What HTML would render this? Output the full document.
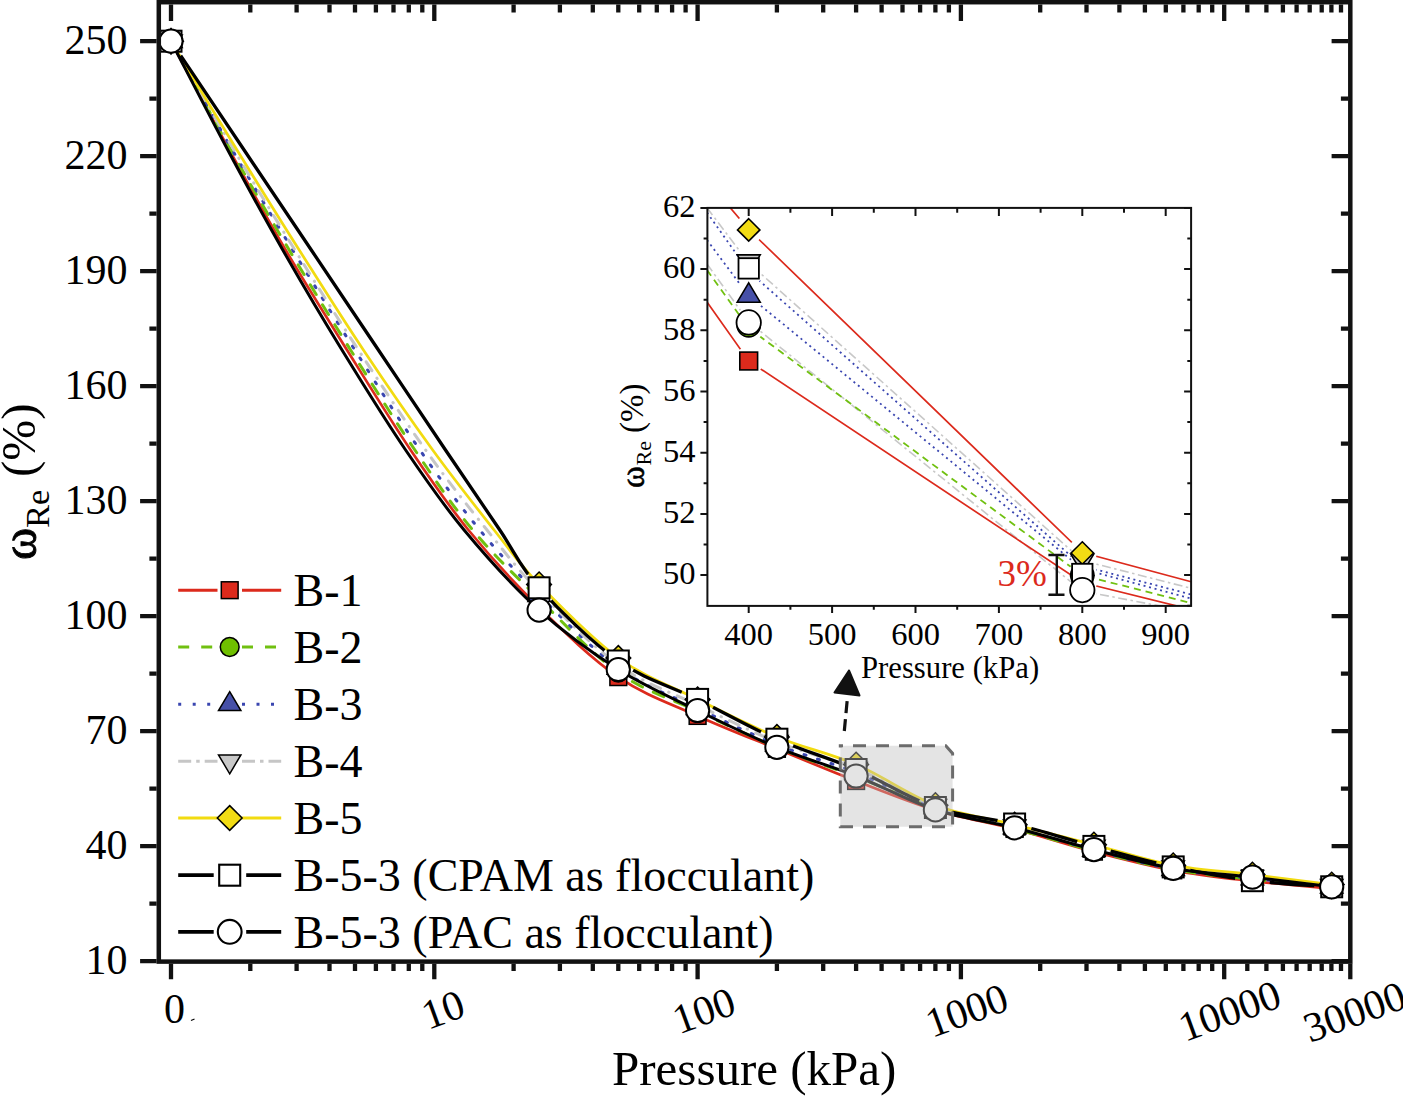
<!DOCTYPE html><html><head><meta charset="utf-8"><style>html,body{margin:0;padding:0;background:#fff;}svg{display:block}text{font-family:"Liberation Serif", serif;}</style></head><body>
<svg width="1403" height="1096" viewBox="0 0 1403 1096">
<rect width="1403" height="1096" fill="#fff"/>
<defs>
<mask id="mCPAM" maskUnits="userSpaceOnUse" x="0" y="0" width="1403" height="1096"><rect width="1403" height="1096" fill="#fff"/>
<circle cx="171.0" cy="41.2" r="17.5" fill="#000"/>
<circle cx="539.1" cy="587.8" r="17.5" fill="#000"/>
<circle cx="618.3" cy="661.0" r="17.5" fill="#000"/>
<circle cx="697.6" cy="699.4" r="17.5" fill="#000"/>
<circle cx="776.9" cy="739.2" r="17.5" fill="#000"/>
<circle cx="856.1" cy="769.5" r="17.5" fill="#000"/>
<circle cx="935.4" cy="807.5" r="17.5" fill="#000"/>
<circle cx="1014.6" cy="824.0" r="17.5" fill="#000"/>
<circle cx="1093.9" cy="846.4" r="17.5" fill="#000"/>
<circle cx="1173.2" cy="866.9" r="17.5" fill="#000"/>
<circle cx="1252.4" cy="880.7" r="17.5" fill="#000"/>
<circle cx="1331.7" cy="886.8" r="17.5" fill="#000"/>
</mask>
<clipPath id="cpMain"><rect x="160" y="4" width="1189" height="956"/></clipPath>
</defs>
<g>
<path d="M171.0,41.2 C180.7,59.3 210.2,115.2 229.3,150.0 C248.4,184.8 266.0,216.7 285.6,250.0 C305.2,283.3 326.2,316.7 347.0,350.0 C367.8,383.3 390.4,420.0 410.6,450.0 C430.8,480.0 447.0,503.8 468.4,530.0 C489.8,556.2 514.1,582.9 539.1,607.4 C564.1,631.9 591.9,659.1 618.3,677.1 C644.8,695.2 671.2,703.9 697.6,715.9 C724.0,727.8 750.4,738.0 776.9,748.8 C803.3,759.7 829.7,770.8 856.1,781.0 C882.5,791.2 909.0,802.2 935.4,810.2 C961.8,818.1 988.2,822.0 1014.6,828.9 C1041.1,835.8 1067.5,844.7 1093.9,851.6 C1120.3,858.5 1146.7,865.4 1173.2,870.3 C1199.6,875.3 1226.0,878.0 1252.4,881.1 C1278.8,884.1 1318.5,887.5 1331.7,888.7" fill="none" stroke="#dc2a1c" stroke-width="2.7"/>
<rect x="162.6" y="32.8" width="16.8" height="16.8" fill="#dc2a1c" stroke="#000" stroke-width="1.5"/>
<rect x="530.7" y="599.0" width="16.8" height="16.8" fill="#dc2a1c" stroke="#000" stroke-width="1.5"/>
<rect x="609.9" y="668.7" width="16.8" height="16.8" fill="#dc2a1c" stroke="#000" stroke-width="1.5"/>
<rect x="689.2" y="707.5" width="16.8" height="16.8" fill="#dc2a1c" stroke="#000" stroke-width="1.5"/>
<rect x="768.5" y="740.4" width="16.8" height="16.8" fill="#dc2a1c" stroke="#000" stroke-width="1.5"/>
<rect x="847.7" y="772.6" width="16.8" height="16.8" fill="#dc2a1c" stroke="#000" stroke-width="1.5"/>
<rect x="927.0" y="801.8" width="16.8" height="16.8" fill="#dc2a1c" stroke="#000" stroke-width="1.5"/>
<rect x="1006.2" y="820.5" width="16.8" height="16.8" fill="#dc2a1c" stroke="#000" stroke-width="1.5"/>
<rect x="1085.5" y="843.2" width="16.8" height="16.8" fill="#dc2a1c" stroke="#000" stroke-width="1.5"/>
<rect x="1164.8" y="861.9" width="16.8" height="16.8" fill="#dc2a1c" stroke="#000" stroke-width="1.5"/>
<rect x="1244.0" y="872.7" width="16.8" height="16.8" fill="#dc2a1c" stroke="#000" stroke-width="1.5"/>
<rect x="1323.3" y="880.3" width="16.8" height="16.8" fill="#dc2a1c" stroke="#000" stroke-width="1.5"/>
<path d="M171.0,41.2 C181.0,59.3 211.1,115.2 230.8,150.0 C250.5,184.8 269.2,216.7 289.2,250.0 C309.2,283.3 329.7,316.7 350.6,350.0 C371.6,383.3 394.5,420.0 414.9,450.0 C435.2,480.0 452.0,505.2 472.7,530.0 C493.4,554.8 514.8,575.2 539.1,598.9 C563.4,622.7 591.9,653.8 618.3,672.5 C644.8,691.3 671.2,698.8 697.6,711.3 C724.0,723.7 750.4,736.4 776.9,747.3 C803.3,758.2 829.7,766.7 856.1,776.8 C882.5,786.9 909.0,799.2 935.4,807.9 C961.8,816.5 988.2,821.4 1014.6,828.6 C1041.1,835.7 1067.5,844.0 1093.9,850.8 C1120.3,857.6 1146.7,864.8 1173.2,869.6 C1199.6,874.4 1226.0,876.5 1252.4,879.5 C1278.8,882.5 1318.5,886.3 1331.7,887.6" fill="none" stroke="#70c010" stroke-width="3.0" stroke-dasharray="11.4 12" stroke-linecap="round"/>
<circle cx="171.0" cy="41.2" r="9.4" fill="#6fbf00" stroke="#000" stroke-width="1.5"/>
<circle cx="539.1" cy="598.9" r="9.4" fill="#6fbf00" stroke="#000" stroke-width="1.5"/>
<circle cx="618.3" cy="672.5" r="9.4" fill="#6fbf00" stroke="#000" stroke-width="1.5"/>
<circle cx="697.6" cy="711.3" r="9.4" fill="#6fbf00" stroke="#000" stroke-width="1.5"/>
<circle cx="776.9" cy="747.3" r="9.4" fill="#6fbf00" stroke="#000" stroke-width="1.5"/>
<circle cx="856.1" cy="776.8" r="9.4" fill="#6fbf00" stroke="#000" stroke-width="1.5"/>
<circle cx="935.4" cy="807.9" r="9.4" fill="#6fbf00" stroke="#000" stroke-width="1.5"/>
<circle cx="1014.6" cy="828.6" r="9.4" fill="#6fbf00" stroke="#000" stroke-width="1.5"/>
<circle cx="1093.9" cy="850.8" r="9.4" fill="#6fbf00" stroke="#000" stroke-width="1.5"/>
<circle cx="1173.2" cy="869.6" r="9.4" fill="#6fbf00" stroke="#000" stroke-width="1.5"/>
<circle cx="1252.4" cy="879.5" r="9.4" fill="#6fbf00" stroke="#000" stroke-width="1.5"/>
<circle cx="1331.7" cy="887.6" r="9.4" fill="#6fbf00" stroke="#000" stroke-width="1.5"/>
<path d="M171.0,41.2 C181.2,59.3 212.0,115.2 232.3,150.0 C252.6,184.8 272.3,216.7 292.7,250.0 C313.1,283.3 333.7,316.7 354.9,350.0 C376.1,383.3 399.1,420.0 419.9,450.0 C440.7,480.0 459.9,505.8 479.8,530.0 C499.7,554.2 516.0,572.1 539.1,595.1 C562.2,618.1 591.9,649.1 618.3,667.9 C644.8,686.8 671.2,695.4 697.6,708.2 C724.0,721.0 750.4,733.9 776.9,744.6 C803.3,755.3 829.7,762.2 856.1,772.6 C882.5,783.0 909.0,798.0 935.4,807.1 C961.8,816.2 988.2,820.3 1014.6,827.4 C1041.1,834.6 1067.5,843.1 1093.9,850.0 C1120.3,857.0 1146.7,864.5 1173.2,869.2 C1199.6,873.9 1226.0,875.5 1252.4,878.4 C1278.8,881.3 1318.5,885.4 1331.7,886.8" fill="none" stroke="#3a46b0" stroke-width="3.0" stroke-dasharray="2 12.2" stroke-linecap="round"/>
<path d="M171.0,28.6 L182.2,47.5 L159.8,47.5 Z" fill="#4650a8" stroke="#000" stroke-width="1.5"/>
<path d="M539.1,582.5 L550.3,601.4 L527.9,601.4 Z" fill="#4650a8" stroke="#000" stroke-width="1.5"/>
<path d="M618.3,655.3 L629.6,674.3 L607.1,674.3 Z" fill="#4650a8" stroke="#000" stroke-width="1.5"/>
<path d="M697.6,695.6 L708.8,714.5 L686.4,714.5 Z" fill="#4650a8" stroke="#000" stroke-width="1.5"/>
<path d="M776.9,732.0 L788.1,750.9 L765.6,750.9 Z" fill="#4650a8" stroke="#000" stroke-width="1.5"/>
<path d="M856.1,760.0 L867.3,778.9 L844.9,778.9 Z" fill="#4650a8" stroke="#000" stroke-width="1.5"/>
<path d="M935.4,794.5 L946.6,813.4 L924.2,813.4 Z" fill="#4650a8" stroke="#000" stroke-width="1.5"/>
<path d="M1014.6,814.8 L1025.9,833.7 L1003.4,833.7 Z" fill="#4650a8" stroke="#000" stroke-width="1.5"/>
<path d="M1093.9,837.4 L1105.1,856.3 L1082.7,856.3 Z" fill="#4650a8" stroke="#000" stroke-width="1.5"/>
<path d="M1173.2,856.6 L1184.4,875.5 L1161.9,875.5 Z" fill="#4650a8" stroke="#000" stroke-width="1.5"/>
<path d="M1252.4,865.8 L1263.6,884.7 L1241.2,884.7 Z" fill="#4650a8" stroke="#000" stroke-width="1.5"/>
<path d="M1331.7,874.2 L1342.9,893.1 L1320.5,893.1 Z" fill="#4650a8" stroke="#000" stroke-width="1.5"/>
<path d="M171.0,41.2 C181.5,59.3 213.3,115.2 234.0,150.0 C254.7,184.8 274.2,216.7 294.9,250.0 C315.6,283.3 336.6,316.7 358.4,350.0 C380.2,383.3 404.2,420.0 425.6,450.0 C447.0,480.0 468.1,506.5 487.0,530.0 C505.9,553.5 517.2,568.8 539.1,591.3 C561.0,613.8 591.9,645.9 618.3,664.9 C644.8,683.9 671.2,692.3 697.6,705.1 C724.0,718.0 750.4,731.3 776.9,741.9 C803.3,752.5 829.7,758.1 856.1,768.8 C882.5,779.4 909.0,796.4 935.4,805.9 C961.8,815.5 988.2,819.5 1014.6,826.3 C1041.1,833.0 1067.5,839.7 1093.9,846.6 C1120.3,853.4 1146.7,862.2 1173.2,867.3 C1199.6,872.3 1226.0,873.8 1252.4,876.9 C1278.8,879.9 1318.5,884.2 1331.7,885.7" fill="none" stroke="#c6c6c6" stroke-width="3.0" stroke-dasharray="10.5 9 0.4 9" stroke-linecap="round"/>
<path d="M171.0,53.8 L182.2,34.9 L159.8,34.9 Z" fill="#c8c8c8" stroke="#000" stroke-width="1.5"/>
<path d="M539.1,603.9 L550.3,585.0 L527.9,585.0 Z" fill="#c8c8c8" stroke="#000" stroke-width="1.5"/>
<path d="M618.3,677.5 L629.6,658.6 L607.1,658.6 Z" fill="#c8c8c8" stroke="#000" stroke-width="1.5"/>
<path d="M697.6,717.7 L708.8,698.8 L686.4,698.8 Z" fill="#c8c8c8" stroke="#000" stroke-width="1.5"/>
<path d="M776.9,754.5 L788.1,735.6 L765.6,735.6 Z" fill="#c8c8c8" stroke="#000" stroke-width="1.5"/>
<path d="M856.1,781.4 L867.3,762.5 L844.9,762.5 Z" fill="#c8c8c8" stroke="#000" stroke-width="1.5"/>
<path d="M935.4,818.6 L946.6,799.6 L924.2,799.6 Z" fill="#c8c8c8" stroke="#000" stroke-width="1.5"/>
<path d="M1014.6,838.9 L1025.9,820.0 L1003.4,820.0 Z" fill="#c8c8c8" stroke="#000" stroke-width="1.5"/>
<path d="M1093.9,859.2 L1105.1,840.3 L1082.7,840.3 Z" fill="#c8c8c8" stroke="#000" stroke-width="1.5"/>
<path d="M1173.2,879.9 L1184.4,861.0 L1161.9,861.0 Z" fill="#c8c8c8" stroke="#000" stroke-width="1.5"/>
<path d="M1252.4,889.5 L1263.6,870.6 L1241.2,870.6 Z" fill="#c8c8c8" stroke="#000" stroke-width="1.5"/>
<path d="M1331.7,898.3 L1342.9,879.4 L1320.5,879.4 Z" fill="#c8c8c8" stroke="#000" stroke-width="1.5"/>
<path d="M171.0,41.2 C182.0,59.3 215.6,115.2 237.0,150.0 C258.4,184.8 278.1,216.7 299.2,250.0 C320.3,283.3 341.1,316.7 363.4,350.0 C385.6,383.3 410.9,420.0 432.7,450.0 C454.5,480.0 476.4,507.6 494.1,530.0 C511.8,552.4 518.4,563.0 539.1,584.4 C559.8,605.7 591.9,638.8 618.3,658.0 C644.8,677.1 671.2,686.2 697.6,699.4 C724.0,712.5 750.4,726.1 776.9,736.9 C803.3,747.8 829.7,753.2 856.1,764.5 C882.5,775.9 909.0,795.1 935.4,805.2 C961.8,815.2 988.2,818.1 1014.6,824.7 C1041.1,831.3 1067.5,837.9 1093.9,844.7 C1120.3,851.4 1146.7,860.4 1173.2,865.4 C1199.6,870.3 1226.0,871.4 1252.4,874.6 C1278.8,877.8 1318.5,882.9 1331.7,884.5" fill="none" stroke="#f2db10" stroke-width="2.7"/>
<path d="M171.0,28.8 L183.4,41.2 L171.0,53.6 L158.6,41.2 Z" fill="#f2dc14" stroke="#000" stroke-width="1.5"/>
<path d="M539.1,572.0 L551.4,584.4 L539.1,596.7 L526.7,584.4 Z" fill="#f2dc14" stroke="#000" stroke-width="1.5"/>
<path d="M618.3,645.6 L630.7,658.0 L618.3,670.3 L606.0,658.0 Z" fill="#f2dc14" stroke="#000" stroke-width="1.5"/>
<path d="M697.6,687.0 L710.0,699.4 L697.6,711.7 L685.2,699.4 Z" fill="#f2dc14" stroke="#000" stroke-width="1.5"/>
<path d="M776.9,724.6 L789.2,736.9 L776.9,749.3 L764.5,736.9 Z" fill="#f2dc14" stroke="#000" stroke-width="1.5"/>
<path d="M856.1,752.2 L868.5,764.5 L856.1,776.9 L843.8,764.5 Z" fill="#f2dc14" stroke="#000" stroke-width="1.5"/>
<path d="M935.4,792.8 L947.8,805.2 L935.4,817.5 L923.0,805.2 Z" fill="#f2dc14" stroke="#000" stroke-width="1.5"/>
<path d="M1014.6,812.4 L1027.0,824.7 L1014.6,837.1 L1002.3,824.7 Z" fill="#f2dc14" stroke="#000" stroke-width="1.5"/>
<path d="M1093.9,832.3 L1106.3,844.7 L1093.9,857.0 L1081.5,844.7 Z" fill="#f2dc14" stroke="#000" stroke-width="1.5"/>
<path d="M1173.2,853.0 L1185.5,865.4 L1173.2,877.7 L1160.8,865.4 Z" fill="#f2dc14" stroke="#000" stroke-width="1.5"/>
<path d="M1252.4,862.2 L1264.8,874.6 L1252.4,886.9 L1240.1,874.6 Z" fill="#f2dc14" stroke="#000" stroke-width="1.5"/>
<path d="M1331.7,872.2 L1344.1,884.5 L1331.7,896.9 L1319.3,884.5 Z" fill="#f2dc14" stroke="#000" stroke-width="1.5"/>
<path d="M171.0,41.2 C183.2,59.3 220.7,115.2 244.1,150.0 C267.5,184.8 288.9,216.7 311.3,250.0 C333.7,283.3 356.0,316.7 378.4,350.0 C400.8,383.3 425.3,420.0 445.5,450.0 C465.7,480.0 484.2,507.0 499.8,530.0 C515.4,553.0 519.3,566.0 539.1,587.8 C558.8,609.7 591.9,642.5 618.3,661.0 C644.8,679.6 671.2,686.3 697.6,699.4 C724.0,712.4 750.4,727.6 776.9,739.2 C803.3,750.9 829.7,758.2 856.1,769.5 C882.5,780.9 909.0,798.4 935.4,807.5 C961.8,816.5 988.2,817.5 1014.6,824.0 C1041.1,830.4 1067.5,839.2 1093.9,846.4 C1120.3,853.5 1146.7,861.2 1173.2,866.9 C1199.6,872.6 1226.0,877.4 1252.4,880.7 C1278.8,884.0 1318.5,885.8 1331.7,886.8" fill="none" stroke="#000" stroke-width="3.3" mask="url(#mCPAM)"/>
<rect x="160.5" y="30.7" width="21.0" height="21.0" fill="#fff" stroke="#000" stroke-width="2.0"/>
<rect x="528.6" y="577.3" width="21.0" height="21.0" fill="#fff" stroke="#000" stroke-width="2.0"/>
<rect x="607.8" y="650.5" width="21.0" height="21.0" fill="#fff" stroke="#000" stroke-width="2.0"/>
<rect x="687.1" y="688.9" width="21.0" height="21.0" fill="#fff" stroke="#000" stroke-width="2.0"/>
<rect x="766.4" y="728.7" width="21.0" height="21.0" fill="#fff" stroke="#000" stroke-width="2.0"/>
<rect x="845.6" y="759.0" width="21.0" height="21.0" fill="#fff" stroke="#000" stroke-width="2.0"/>
<rect x="924.9" y="797.0" width="21.0" height="21.0" fill="#fff" stroke="#000" stroke-width="2.0"/>
<rect x="1004.1" y="813.5" width="21.0" height="21.0" fill="#fff" stroke="#000" stroke-width="2.0"/>
<rect x="1083.4" y="835.9" width="21.0" height="21.0" fill="#fff" stroke="#000" stroke-width="2.0"/>
<rect x="1162.7" y="856.4" width="21.0" height="21.0" fill="#fff" stroke="#000" stroke-width="2.0"/>
<rect x="1241.9" y="870.2" width="21.0" height="21.0" fill="#fff" stroke="#000" stroke-width="2.0"/>
<rect x="1321.2" y="876.3" width="21.0" height="21.0" fill="#fff" stroke="#000" stroke-width="2.0"/>
<path d="M171.0,41.2 C180.5,59.3 209.2,115.2 227.8,150.0 C246.4,184.8 263.8,216.7 282.8,250.0 C301.8,283.3 321.5,316.7 342.0,350.0 C362.5,383.3 385.2,420.0 405.6,450.0 C426.0,480.0 441.9,503.3 464.1,530.0 C486.3,556.7 513.4,586.8 539.1,610.1 C564.8,633.3 591.9,652.7 618.3,669.5 C644.8,686.2 671.2,697.5 697.6,710.5 C724.0,723.5 750.4,736.4 776.9,747.3 C803.3,758.2 829.7,765.6 856.1,776.0 C882.5,786.5 909.0,801.2 935.4,809.8 C961.8,818.4 988.2,821.1 1014.6,827.8 C1041.1,834.4 1067.5,842.9 1093.9,849.6 C1120.3,856.4 1146.7,863.8 1173.2,868.4 C1199.6,873.0 1226.0,874.2 1252.4,877.2 C1278.8,880.3 1318.5,885.2 1331.7,886.8" fill="none" stroke="#000" stroke-width="3.0"/>
<circle cx="171.0" cy="41.2" r="11.6" fill="#fff" stroke="#000" stroke-width="2.0"/>
<circle cx="539.1" cy="610.1" r="11.6" fill="#fff" stroke="#000" stroke-width="2.0"/>
<circle cx="618.3" cy="669.5" r="11.6" fill="#fff" stroke="#000" stroke-width="2.0"/>
<circle cx="697.6" cy="710.5" r="11.6" fill="#fff" stroke="#000" stroke-width="2.0"/>
<circle cx="776.9" cy="747.3" r="11.6" fill="#fff" stroke="#000" stroke-width="2.0"/>
<circle cx="856.1" cy="776.0" r="11.6" fill="#fff" stroke="#000" stroke-width="2.0"/>
<circle cx="935.4" cy="809.8" r="11.6" fill="#fff" stroke="#000" stroke-width="2.0"/>
<circle cx="1014.6" cy="827.8" r="11.6" fill="#fff" stroke="#000" stroke-width="2.0"/>
<circle cx="1093.9" cy="849.6" r="11.6" fill="#fff" stroke="#000" stroke-width="2.0"/>
<circle cx="1173.2" cy="868.4" r="11.6" fill="#fff" stroke="#000" stroke-width="2.0"/>
<circle cx="1252.4" cy="877.2" r="11.6" fill="#fff" stroke="#000" stroke-width="2.0"/>
<circle cx="1331.7" cy="886.8" r="11.6" fill="#fff" stroke="#000" stroke-width="2.0"/>
</g>
<rect x="158.8" y="2.2" width="1191.5" height="959.4" fill="none" stroke="#111" stroke-width="4.5"/>
<path d="M171.0,963.8v15.5 M171.0,4.4v16.5 M250.3,963.8v7.2 M250.3,4.4v8.2 M296.6,963.8v7.2 M296.6,4.4v8.2 M329.5,963.8v7.2 M329.5,4.4v8.2 M355.0,963.8v7.2 M355.0,4.4v8.2 M375.9,963.8v7.2 M375.9,4.4v8.2 M393.5,963.8v7.2 M393.5,4.4v8.2 M408.8,963.8v7.2 M408.8,4.4v8.2 M422.3,963.8v7.2 M422.3,4.4v8.2 M434.3,963.8v15.5 M434.3,4.4v16.5 M513.6,963.8v7.2 M513.6,4.4v8.2 M559.9,963.8v7.2 M559.9,4.4v8.2 M592.8,963.8v7.2 M592.8,4.4v8.2 M618.3,963.8v7.2 M618.3,4.4v8.2 M639.2,963.8v7.2 M639.2,4.4v8.2 M656.8,963.8v7.2 M656.8,4.4v8.2 M672.1,963.8v7.2 M672.1,4.4v8.2 M685.6,963.8v7.2 M685.6,4.4v8.2 M697.6,963.8v15.5 M697.6,4.4v16.5 M776.9,963.8v7.2 M776.9,4.4v8.2 M823.2,963.8v7.2 M823.2,4.4v8.2 M856.1,963.8v7.2 M856.1,4.4v8.2 M881.6,963.8v7.2 M881.6,4.4v8.2 M902.5,963.8v7.2 M902.5,4.4v8.2 M920.1,963.8v7.2 M920.1,4.4v8.2 M935.4,963.8v7.2 M935.4,4.4v8.2 M948.9,963.8v7.2 M948.9,4.4v8.2 M960.9,963.8v15.5 M960.9,4.4v16.5 M1040.2,963.8v7.2 M1040.2,4.4v8.2 M1086.5,963.8v7.2 M1086.5,4.4v8.2 M1119.4,963.8v7.2 M1119.4,4.4v8.2 M1144.9,963.8v7.2 M1144.9,4.4v8.2 M1165.8,963.8v7.2 M1165.8,4.4v8.2 M1183.4,963.8v7.2 M1183.4,4.4v8.2 M1198.7,963.8v7.2 M1198.7,4.4v8.2 M1212.2,963.8v7.2 M1212.2,4.4v8.2 M1224.2,963.8v15.5 M1224.2,4.4v16.5 M1247.3,963.8v7.2 M1247.3,4.4v8.2 M1266.4,963.8v7.2 M1266.4,4.4v8.2 M1282.9,963.8v7.2 M1282.9,4.4v8.2 M1296.6,963.8v7.2 M1296.6,4.4v8.2 M1309.7,963.8v7.2 M1309.7,4.4v8.2 M1321.7,963.8v7.2 M1321.7,4.4v8.2 M1331.4,963.8v7.2 M1331.4,4.4v8.2 M1341.0,963.8v7.2 M1341.0,4.4v8.2 M1350.3,963.8v15.5 M156.6,961.2h-16.5 M1348.1,961.2h-16.5 M156.6,903.7h-7.2 M1348.1,903.7h-7.2 M156.6,846.2h-16.5 M1348.1,846.2h-16.5 M156.6,788.7h-7.2 M1348.1,788.7h-7.2 M156.6,731.2h-16.5 M1348.1,731.2h-16.5 M156.6,673.7h-7.2 M1348.1,673.7h-7.2 M156.6,616.2h-16.5 M1348.1,616.2h-16.5 M156.6,558.7h-7.2 M1348.1,558.7h-7.2 M156.6,501.2h-16.5 M1348.1,501.2h-16.5 M156.6,443.7h-7.2 M1348.1,443.7h-7.2 M156.6,386.2h-16.5 M1348.1,386.2h-16.5 M156.6,328.7h-7.2 M1348.1,328.7h-7.2 M156.6,271.2h-16.5 M1348.1,271.2h-16.5 M156.6,213.7h-7.2 M1348.1,213.7h-7.2 M156.6,156.2h-16.5 M1348.1,156.2h-16.5 M156.6,98.7h-7.2 M1348.1,98.7h-7.2 M156.6,41.2h-16.5 M1348.1,41.2h-16.5" stroke="#111" stroke-width="4.3" fill="none"/>
<text x="127.5" y="973.8" font-size="42" text-anchor="end">10</text>
<text x="127.5" y="858.8" font-size="42" text-anchor="end">40</text>
<text x="127.5" y="743.8" font-size="42" text-anchor="end">70</text>
<text x="127.5" y="628.8" font-size="42" text-anchor="end">100</text>
<text x="127.5" y="513.8" font-size="42" text-anchor="end">130</text>
<text x="127.5" y="398.8" font-size="42" text-anchor="end">160</text>
<text x="127.5" y="283.8" font-size="42" text-anchor="end">190</text>
<text x="127.5" y="168.8" font-size="42" text-anchor="end">220</text>
<text x="127.5" y="53.8" font-size="42" text-anchor="end">250</text>
<text x="164" y="1023" font-size="42">0</text><path d="M191,1020.5 l3.5,-1.5" stroke="#000" stroke-width="1.2"/>
<text x="428" y="1030" font-size="42" transform="rotate(-20 428 1030)">10</text>
<text x="679" y="1034.5" font-size="42" transform="rotate(-20 679 1034.5)">100</text>
<text x="932" y="1038" font-size="42" transform="rotate(-20 932 1038)">1000</text>
<text x="1185" y="1042" font-size="42" transform="rotate(-20 1185 1042)">10000</text>
<text x="1310" y="1043" font-size="42" transform="rotate(-20 1310 1043)">30000</text>
<text x="612" y="1084.7" font-size="49">Pressure (kPa)</text>
<g transform="translate(35.6,560) rotate(-90)"><text x="0" y="0" font-size="49" stroke="#000" stroke-width="0.9">ω</text></g>
<g transform="translate(49.2,528) rotate(-90)"><text x="0" y="0" font-size="34.5">Re</text></g>
<g transform="translate(35.2,477) rotate(-90)"><text x="0" y="0" font-size="49">(%)</text></g>
<path d="M178.2,590.2H217.5 M242,590.2H281.2" stroke="#dc2a1c" stroke-width="3.0"/>
<rect x="221.3" y="581.8" width="16.8" height="16.8" fill="#dc2a1c" stroke="#000" stroke-width="1.5"/>
<text x="293.5" y="606.2" font-size="46">B-1</text>
<path d="M178.2,647.0H217.5 M242,647.0H281.2" stroke="#70c010" stroke-width="3.0" stroke-dasharray="11 12"/>
<circle cx="229.7" cy="647.0" r="9.4" fill="#6fbf00" stroke="#000" stroke-width="1.5"/>
<text x="293.5" y="663.0" font-size="46">B-2</text>
<path d="M178.2,704.2H217.5 M242,704.2H281.2" stroke="#3a46b0" stroke-width="3.0" stroke-dasharray="3 11.5"/>
<path d="M229.7,691.6 L240.9,710.5 L218.5,710.5 Z" fill="#4650a8" stroke="#000" stroke-width="1.5"/>
<text x="293.5" y="720.2" font-size="46">B-3</text>
<path d="M178.2,761.2H217.5 M242,761.2H281.2" stroke="#c6c6c6" stroke-width="3.0" stroke-dasharray="13 5 3.5 5"/>
<path d="M229.7,773.8 L240.9,754.9 L218.5,754.9 Z" fill="#c8c8c8" stroke="#000" stroke-width="1.5"/>
<text x="293.5" y="777.2" font-size="46">B-4</text>
<path d="M178.2,818.0H217.5 M242,818.0H281.2" stroke="#f2db10" stroke-width="3.0"/>
<path d="M229.7,805.6 L242.1,818.0 L229.7,830.4 L217.3,818.0 Z" fill="#f2dc14" stroke="#000" stroke-width="1.5"/>
<text x="293.5" y="834.0" font-size="46">B-5</text>
<path d="M178.2,875.2H213.7 M246.2,875.2H281.2" stroke="#000" stroke-width="3.7"/>
<rect x="219.2" y="864.7" width="21.0" height="21.0" fill="#fff" stroke="#000" stroke-width="2.1"/>
<text x="293.5" y="891.2" font-size="46">B-5-3 (CPAM as flocculant)</text>
<path d="M178.2,931.8H213.7 M246.2,931.8H281.2" stroke="#000" stroke-width="3.7"/>
<circle cx="229.7" cy="931.8" r="11.9" fill="#fff" stroke="#000" stroke-width="2.1"/>
<text x="293.5" y="947.8" font-size="46">B-5-3 (PAC as flocculant)</text>
<path d="M840.3,745.8 H945.8 L952.6,753.4 V826.8 H840.3 Z" fill="rgba(190,190,190,0.42)" stroke="#6c6c6c" stroke-width="3" stroke-dasharray="13 10" stroke-dashoffset="10.3"/>
<path d="M844.3,731 L847.6,696" stroke="#111" stroke-width="3.2" stroke-dasharray="12 6"/>
<path d="M849,670.5 L834.5,692.5 L859.5,695.5 Z" fill="#111" stroke="#111" stroke-width="2" stroke-linejoin="round"/>
<rect x="707.4" y="207.9" width="483.69999999999993" height="398.0" fill="#fff"/>
<clipPath id="cpIn"><rect x="707.4" y="207.9" width="483.69999999999993" height="398.0"/></clipPath>
<g clip-path="url(#cpIn)">
<mask id="miG" maskUnits="userSpaceOnUse" x="0" y="0" width="1403" height="1096"><rect width="1403" height="1096" fill="#fff"/><circle cx="748.7" cy="321.9" r="14.5" fill="#000"/><circle cx="1082.3" cy="591" r="14.5" fill="#000"/></mask>
<path d="M707.0,264.0 L748.7,321.9 L1082.3,591.0 L1191.1,612.0" fill="none" stroke="#c8c8c8" stroke-width="1.6" stroke-dasharray="9 3.5 2.5 3.5" mask="url(#miG)"/>
<mask id="miC" maskUnits="userSpaceOnUse" x="0" y="0" width="1403" height="1096"><rect width="1403" height="1096" fill="#fff"/><circle cx="748.7" cy="262.9" r="14.5" fill="#000"/><circle cx="1082.3" cy="560.5" r="14.5" fill="#000"/></mask>
<path d="M707.0,207.8 L748.7,262.9 L1082.3,560.5 L1191.1,588.3" fill="none" stroke="#c8c8c8" stroke-width="1.6" stroke-dasharray="9 3.5 2.5 3.5" mask="url(#miC)"/>
<mask id="miD" maskUnits="userSpaceOnUse" x="0" y="0" width="1403" height="1096"><rect width="1403" height="1096" fill="#fff"/><circle cx="748.7" cy="271.3" r="14.5" fill="#000"/><circle cx="1082.3" cy="566" r="14.5" fill="#000"/></mask>
<path d="M707.0,212.5 L748.7,271.3 L1082.3,566.0 L1191.1,594.5" fill="none" stroke="#3a46b0" stroke-width="1.8" stroke-dasharray="2 3.7" mask="url(#miD)"/>
<mask id="miE" maskUnits="userSpaceOnUse" x="0" y="0" width="1403" height="1096"><rect width="1403" height="1096" fill="#fff"/><circle cx="748.7" cy="295.8" r="14.5" fill="#000"/><circle cx="1082.3" cy="569" r="14.5" fill="#000"/></mask>
<path d="M707.0,240.0 L748.7,295.8 L1082.3,569.0 L1191.1,598.5" fill="none" stroke="#3a46b0" stroke-width="1.8" stroke-dasharray="2 3.7" mask="url(#miE)"/>
<mask id="miF" maskUnits="userSpaceOnUse" x="0" y="0" width="1403" height="1096"><rect width="1403" height="1096" fill="#fff"/><circle cx="748.7" cy="328.1" r="14.5" fill="#000"/><circle cx="1082.3" cy="575.3" r="14.5" fill="#000"/></mask>
<path d="M707.0,270.0 L748.7,328.1 L1082.3,575.3 L1191.1,603.0" fill="none" stroke="#70c010" stroke-width="1.8" stroke-dasharray="7 5" mask="url(#miF)"/>
<mask id="miB" maskUnits="userSpaceOnUse" x="0" y="0" width="1403" height="1096"><rect width="1403" height="1096" fill="#fff"/><circle cx="748.7" cy="361" r="14.5" fill="#000"/><circle cx="1082.3" cy="582.5" r="14.5" fill="#000"/></mask>
<path d="M707.0,302.0 L748.7,361.0 L1082.3,582.5 L1191.1,609.5" fill="none" stroke="#dc2a1c" stroke-width="1.7" mask="url(#miB)"/>
<mask id="miA" maskUnits="userSpaceOnUse" x="0" y="0" width="1403" height="1096"><rect width="1403" height="1096" fill="#fff"/><circle cx="748.7" cy="229.5" r="14.5" fill="#000"/><circle cx="1082.3" cy="552.5" r="14.5" fill="#000"/></mask>
<path d="M707.0,180.5 L748.7,229.5 L1082.3,552.5 L1191.1,581.7" fill="none" stroke="#dc2a1c" stroke-width="1.7" mask="url(#miA)"/>
<rect x="739.8" y="352.1" width="17.8" height="17.8" fill="#dc2a1c" stroke="#000" stroke-width="1.6"/>
<circle cx="748.7" cy="325.3" r="11.6" fill="#6fbf00" stroke="#000" stroke-width="1.6"/>
<path d="M748.7,282.9 L760.2,302.2 L737.2,302.2 Z" fill="#4650a8" stroke="#000" stroke-width="1.6"/>
<path d="M748.7,274.2 L760.2,254.9 L737.2,254.9 Z" fill="#c8c8c8" stroke="#000" stroke-width="1.6"/>
<path d="M748.7,218.7 L759.9,229.9 L748.7,241.1 L737.5,229.9 Z" fill="#f2dc14" stroke="#000" stroke-width="1.6"/>
<rect x="738.5" y="258.2" width="20.4" height="20.4" fill="#fff" stroke="#000" stroke-width="1.8"/>
<circle cx="748.7" cy="322.4" r="12.2" fill="#fff" stroke="#000" stroke-width="1.8"/>
<rect x="1073.4" y="573.6" width="17.8" height="17.8" fill="#dc2a1c" stroke="#000" stroke-width="1.6"/>
<circle cx="1082.3" cy="575.3" r="11.6" fill="#6fbf00" stroke="#000" stroke-width="1.6"/>
<path d="M1082.3,556.1 L1093.8,575.5 L1070.8,575.5 Z" fill="#4650a8" stroke="#000" stroke-width="1.6"/>
<path d="M1082.3,573.4 L1093.8,554.0 L1070.8,554.0 Z" fill="#c8c8c8" stroke="#000" stroke-width="1.6"/>
<path d="M1082.3,541.8 L1093.5,553.0 L1082.3,564.2 L1071.1,553.0 Z" fill="#f2dc14" stroke="#000" stroke-width="1.6"/>
<rect x="1072.1" y="563.8" width="20.4" height="20.4" fill="#fff" stroke="#000" stroke-width="1.8"/>
<circle cx="1082.3" cy="590.1" r="12.2" fill="#fff" stroke="#000" stroke-width="1.8"/>
</g>
<rect x="707.4" y="207.9" width="483.69999999999993" height="398.0" fill="none" stroke="#111" stroke-width="2"/>
<path d="M1191.1,605.7h-3.8 M707.4,575.1h-7 M1191.1,575.1h-7 M707.4,544.5h-3.8 M1191.1,544.5h-3.8 M707.4,513.9h-7 M1191.1,513.9h-7 M707.4,483.3h-3.8 M1191.1,483.3h-3.8 M707.4,452.7h-7 M1191.1,452.7h-7 M707.4,422.1h-3.8 M1191.1,422.1h-3.8 M707.4,391.5h-7 M1191.1,391.5h-7 M707.4,360.9h-3.8 M1191.1,360.9h-3.8 M707.4,330.3h-7 M1191.1,330.3h-7 M707.4,299.7h-3.8 M1191.1,299.7h-3.8 M707.4,269.1h-7 M1191.1,269.1h-7 M707.4,238.5h-3.8 M1191.1,238.5h-3.8 M707.4,207.9h-7 M1191.1,207.9h-7 M748.7,605.9v7 M748.7,207.9v8 M790.4,605.9v3.8 M790.4,207.9v4.8 M832.1,605.9v7 M832.1,207.9v8 M873.8,605.9v3.8 M873.8,207.9v4.8 M915.5,605.9v7 M915.5,207.9v8 M957.2,605.9v3.8 M957.2,207.9v4.8 M998.9,605.9v7 M998.9,207.9v8 M1040.6,605.9v3.8 M1040.6,207.9v4.8 M1082.3,605.9v7 M1082.3,207.9v8 M1124.0,605.9v3.8 M1124.0,207.9v4.8 M1165.7,605.9v7 M1165.7,207.9v8" stroke="#111" stroke-width="2" fill="none"/>
<text x="695.5" y="584.4" font-size="32.5" text-anchor="end">50</text>
<text x="695.5" y="523.2" font-size="32.5" text-anchor="end">52</text>
<text x="695.5" y="462.0" font-size="32.5" text-anchor="end">54</text>
<text x="695.5" y="400.8" font-size="32.5" text-anchor="end">56</text>
<text x="695.5" y="339.6" font-size="32.5" text-anchor="end">58</text>
<text x="695.5" y="278.4" font-size="32.5" text-anchor="end">60</text>
<text x="695.5" y="217.2" font-size="32.5" text-anchor="end">62</text>
<text x="748.7" y="644.6" font-size="32.5" text-anchor="middle">400</text>
<text x="832.1" y="644.6" font-size="32.5" text-anchor="middle">500</text>
<text x="915.5" y="644.6" font-size="32.5" text-anchor="middle">600</text>
<text x="998.9" y="644.6" font-size="32.5" text-anchor="middle">700</text>
<text x="1082.3" y="644.6" font-size="32.5" text-anchor="middle">800</text>
<text x="1165.7" y="644.6" font-size="32.5" text-anchor="middle">900</text>
<text x="861" y="678.3" font-size="30.7">Pressure (kPa)</text>
<g transform="translate(643.7,488) rotate(-90)"><text x="0" y="0" font-size="33" stroke="#000" stroke-width="0.6">ω</text></g>
<g transform="translate(651.4,465.5) rotate(-90)"><text x="0" y="0" font-size="22">Re</text></g>
<g transform="translate(643,433) rotate(-90)"><text x="0" y="0" font-size="33">(%)</text></g>
<text x="997.5" y="586.4" font-size="37" fill="#dc2a1c">3%</text>
<path d="M1056.8,555 V594.7 M1048.4,555 H1064.5 M1048.4,594.7 H1064.5" stroke="#111" stroke-width="2.4" fill="none"/>
</svg></body></html>
